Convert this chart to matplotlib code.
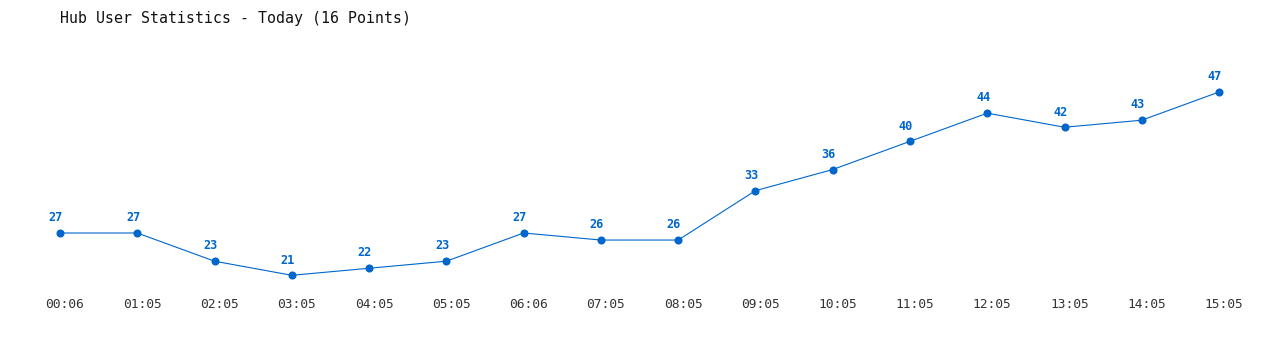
import matplotlib
matplotlib.use("Agg")
import matplotlib.pyplot as plt
from matplotlib.transforms import ScaledTranslation

times = ["00:06", "01:05", "02:05", "03:05", "04:05", "05:05", "06:06", "07:05",
         "08:05", "09:05", "10:05", "11:05", "12:05", "13:05", "14:05", "15:05"]
users = [27, 27, 23, 21, 22, 23, 27, 26, 26, 33, 36, 40, 44, 42, 43, 47]

color = "#0066cc"
W, H = 1280, 350

fig = plt.figure(figsize=(W / 100, H / 100), dpi=100)
# axes spans full width, bottom at pixel 285, top at pixel 50
ax = fig.add_axes([0, (H - 285) / H, 1, (285 - 50) / H])

x = list(range(len(users)))
ax.plot(x, users, color=color, linewidth=0.8, marker="o", markersize=4.8)
for xi, v in zip(x, users):
    ax.annotate(str(v), (xi, v), xytext=(-3, 6.3), textcoords="offset points",
                ha="center", va="bottom", fontsize=8.6, fontweight="bold",
                color=color, family="DejaVu Sans Mono")

step = 77.27
ax.set_xlim(-60 / step, (W - 60) / step)
ppu = 7.05
ax.set_ylim(27 - (285 - 233) / ppu, 27 + (233 - 50) / ppu)

ax.set_xticks(x)
ax.set_xticklabels(times, family="DejaVu Sans Mono", fontsize=9.3, color="#333333")
ax.tick_params(axis="x", length=0, pad=9)
shift = ScaledTranslation(5 / 100, 0, fig.dpi_scale_trans)
for lbl in ax.get_xticklabels():
    lbl.set_transform(lbl.get_transform() + shift)
ax.set_yticks([])
for s in ax.spines.values():
    s.set_visible(False)

fig.text(60 / W, 1 - 18 / H, "Hub User Statistics - Today (16 Points)",
         family="DejaVu Sans Mono", fontsize=10.7, color="#111111",
         ha="left", va="center")

fig.savefig("out.png", dpi=100)
